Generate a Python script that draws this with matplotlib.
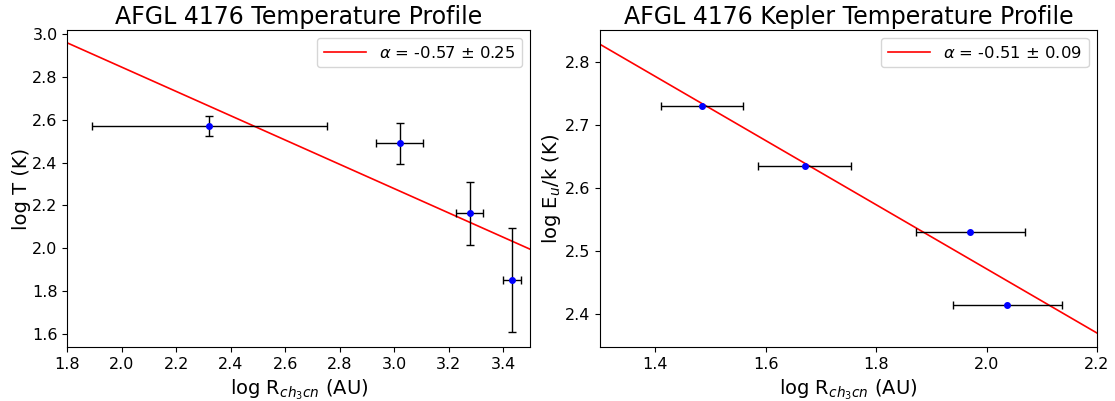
import numpy as np
import matplotlib
matplotlib.use("Agg")
import matplotlib.pyplot as plt

# --- left panel: AFGL 4176 temperature profile ---
r_left = [2.322, 3.020, 3.277, 3.434]
r_left_err = [0.433, 0.086, 0.048, 0.033]
t_left = [2.571, 2.490, 2.162, 1.850]
t_left_err = [0.046, 0.096, 0.148, 0.244]
fit_left = (-0.568, 3.982)      # slope, intercept
label_left = r'$\alpha$ = -0.57 ± 0.25'

# --- right panel: Kepler temperature profile ---
r_right = [1.485, 1.671, 1.971, 2.038]
r_right_err = [0.074, 0.084, 0.098, 0.099]
e_right = [2.730, 2.634, 2.529, 2.413]
fit_right = (-0.509, 3.489)
label_right = r'$\alpha$ = -0.51 ± 0.09'

xlabel = r'log R$_{ch_3cn}$ (AU)'

fig = plt.figure(figsize=(11.15, 4.01), dpi=100)
ax1 = fig.add_axes([0.0604, 0.1347, 0.4152, 0.7905])
ax2 = fig.add_axes([0.5381, 0.1347, 0.4457, 0.7905])


def draw(ax, x, xerr, y, yerr, fit, label, xlim, ylim):
    xx = np.array(xlim)
    ax.plot(xx, fit[0] * xx + fit[1], color='red', lw=1.2, label=label)
    ax.errorbar(x, y, xerr=xerr, yerr=yerr, fmt='o', color='blue', ms=4,
                ecolor='black', elinewidth=1, capsize=3, capthick=1)
    ax.set_xlim(*xlim)
    ax.set_ylim(*ylim)
    ax.tick_params(labelsize=11.5)
    ax.set_xlabel(xlabel, fontsize=14)
    ax.legend(loc='upper right', fontsize=11.8, handlelength=2.6)


draw(ax1, r_left, r_left_err, t_left, t_left_err, fit_left, label_left,
     (1.8, 3.5), (1.537, 3.02))
ax1.set_ylabel('log T (K)', fontsize=14, labelpad=1)
ax1.set_title('AFGL 4176 Temperature Profile', fontsize=17, pad=4)

draw(ax2, r_right, r_right_err, e_right, None, fit_right, label_right,
     (1.3, 2.2), (2.347, 2.85))
ax2.set_ylabel(r'log E$_u$/k (K)', fontsize=14, labelpad=1)
ax2.set_title('AFGL 4176 Kepler Temperature Profile', fontsize=17, pad=4)

fig.savefig('out.png', dpi=100)
